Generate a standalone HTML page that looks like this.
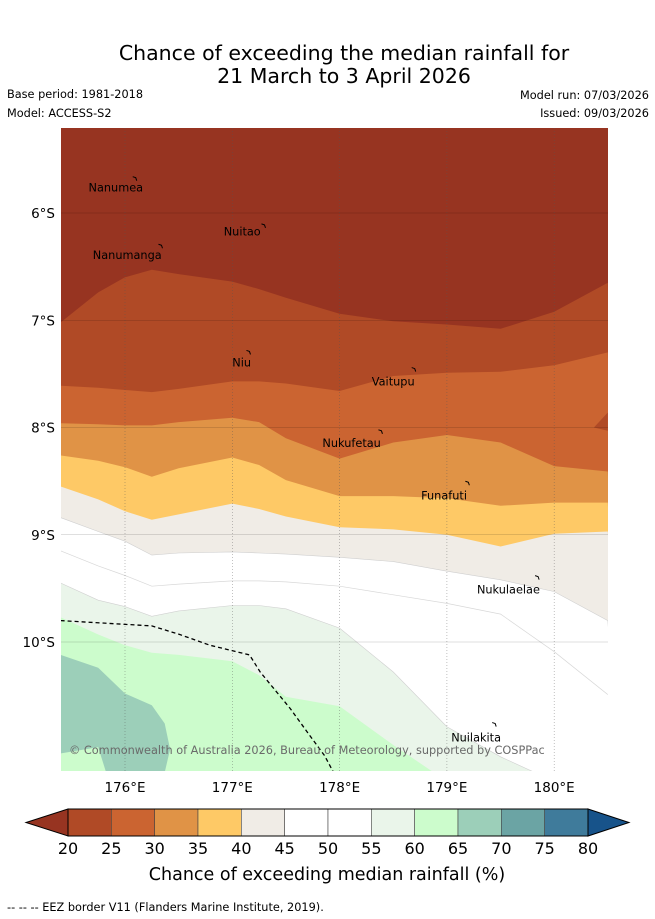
<!DOCTYPE html>
<html><head><meta charset="utf-8">
<style>
body{margin:0;background:#fff;width:655px;height:919px;overflow:hidden;font-family:"DejaVu Sans",sans-serif;}
svg{display:block}
</style></head>
<body>
<svg id="chart" width="655" height="919" viewBox="0 0 655 919" font-family="DejaVu Sans, sans-serif">
<text x="344" y="60" font-size="20.5" text-anchor="middle">Chance of exceeding the median rainfall for</text>
<text x="344" y="83" font-size="20.5" text-anchor="middle">21 March to 3 April 2026</text>
<text x="7" y="98" font-size="11.3">Base period: 1981-2018</text>
<text x="7" y="117" font-size="11.3">Model: ACCESS-S2</text>
<text x="649" y="99" font-size="11.3" text-anchor="end">Model run: 07/03/2026</text>
<text x="649" y="117" font-size="11.3" text-anchor="end">Issued: 09/03/2026</text>
<defs><clipPath id="clip"><rect x="61" y="128" width="547" height="643"/></clipPath></defs>
<g id="map" clip-path="url(#clip)"></g>
<g id="axes"></g>
<g id="cbar"></g>
<text x="327" y="880" font-size="17.5" text-anchor="middle">Chance of exceeding median rainfall (%)</text>
<text x="7" y="911" font-size="11.3">-- -- -- EEZ border V11 (Flanders Marine Institute, 2019).</text>
</svg>
<script>
const lons=[175.4,175.75,176,176.25,176.5,177,177.25,177.5,178,178.5,179,179.5,180,180.5];
const b20=[7.02,6.74,6.60,6.53,6.57,6.64,6.71,6.79,6.94,7.01,7.04,7.08,6.92,6.65];
const b25=[7.61,7.63,7.65,7.67,7.64,7.57,7.57,7.59,7.66,7.52,7.49,7.48,7.42,7.30];
const b30=[7.96,7.97,7.98,7.98,7.95,7.91,7.95,8.10,8.29,8.14,8.07,8.14,8.36,8.41];
const b35=[8.26,8.31,8.37,8.46,8.38,8.28,8.35,8.49,8.64,8.64,8.66,8.73,8.70,8.70];
const b40=[8.55,8.67,8.78,8.86,8.81,8.71,8.76,8.83,8.93,8.95,9.00,9.11,8.99,8.97];
const b45=[8.84,8.97,9.06,9.19,9.17,9.16,9.17,9.18,9.21,9.25,9.34,9.42,9.53,9.80];
const b50=[9.15,9.29,9.38,9.48,9.46,9.43,9.43,9.44,9.48,9.56,9.64,9.74,10.09,10.49];
const b55=[9.45,9.61,9.67,9.76,9.71,9.66,9.66,9.69,9.87,10.28,10.79,11.07,11.3,11.3];
const b60=[9.77,9.93,10.03,10.10,10.12,10.18,10.31,10.51,10.60,10.96,11.3,11.3,11.3,11.3];
const tealLon=[175.4,175.75,176,176.25,176.37,176.42,176.35,175.85,175.75,175.4];
const tealLat=[10.12,10.24,10.48,10.59,10.76,11.00,11.3,11.3,10.98,11.04];
const spotLon=[180.37,180.5,180.5];
const spotLat=[8.0,7.86,8.03];
const eezLon=[175.4,176.25,176.51,176.79,177.16,177.26,177.54,177.72,177.86,177.94];
const eezLat=[9.80,9.85,9.93,10.03,10.12,10.28,10.62,10.87,11.06,11.21];
const islandNames=["Nanumea","Nuitao","Nanumanga","Niu","Vaitupu","Nukufetau","Funafuti","Nukulaelae","Nuilakita"];
const islandLon=[176.1,177.3,176.34,177.16,178.7,178.39,179.2,179.85,179.45];
const islandLat=[5.68,6.12,6.31,7.30,7.46,8.04,8.52,9.40,10.77];
const labelLon=[175.66,176.92,175.7,177.0,178.3,177.84,178.76,179.28,179.04];
const labelLat=[5.80,6.21,6.43,7.43,7.61,8.18,8.67,9.55,10.93];
const xTicks=[176,177,178,179,180];
const yTicks=[6,7,8,9,10];
const cbLevels=[20,25,30,35,40,45,50,55,60,65,70,75,80];
const cbColors=["#b04a26","#cb6431","#e09346","#fec966","#f0ece6","#ffffff","#ffffff","#eaf5ea","#ccfccc","#9ccfb9","#6ba4a4","#3f7b9b"];

const NS="http://www.w3.org/2000/svg";
const X=l=>125+(l-176)*107.3;
const Y=l=>213+(l-6)*107.25;
function mk(tag,attrs,parent){const e=document.createElementNS(NS,tag);for(const k in attrs)e.setAttribute(k,attrs[k]);parent.appendChild(e);return e;}
const map=document.getElementById('map');
let bg=mk('rect',{x:61,y:128,width:547,height:643,fill:'#973421'},map);


const bands=[[b20,"#b04a26","band-20-25",0],[b25,"#cb6431","band-25-30",0],[b30,"#e09346","band-30-35",0],[b35,"#fec966","band-35-40",0],[b40,"#f0ece6","band-40-45",0],[b45,"#ffffff","band-45-50",1],[b55,"#eaf5ea","band-55-60",1],[b60,"#ccfccc","band-60-65",0]];
bands.forEach(([b,c,n,s])=>{
  let d='M'+lons.map((l,i)=>X(l).toFixed(1)+','+Y(b[i]).toFixed(1)).join('L')+'L620,790L50,790Z';
  const p=mk('path',{d:d,fill:c,stroke:s?'#d0d0d0':'none','stroke-width':0.6},map);
  
  
});
let sp=mk('path',{d:'M'+spotLon.map((l,i)=>X(l).toFixed(1)+','+Y(spotLat[i]).toFixed(1)).join('L')+'Z',fill:'#b04a26'},map);


let d50='M'+lons.map((l,i)=>X(l).toFixed(1)+','+Y(b50[i]).toFixed(1)).join('L');
let l50=mk('path',{d:d50,fill:'none',stroke:'#d8d8d8','stroke-width':0.7},map);


let tp=mk('path',{d:'M'+tealLon.map((l,i)=>X(l).toFixed(1)+','+Y(tealLat[i]).toFixed(1)).join('L')+'Z',fill:'#9ccfb9'},map);


xTicks.forEach(t=>{const g=mk('line',{x1:X(t),x2:X(t),y1:128,y2:771,stroke:'#555','stroke-width':0.6,'stroke-dasharray':'1,2','stroke-opacity':0.6},map);
  
  });
yTicks.forEach(t=>{const g=mk('line',{x1:61,x2:608,y1:Y(t),y2:Y(t),stroke:'#000','stroke-width':0.6,'stroke-opacity':0.25},map);
  
  });
let eez=mk('path',{d:'M'+eezLon.map((l,i)=>X(l).toFixed(1)+','+Y(eezLat[i]).toFixed(1)).join('L'),fill:'none',stroke:'#000','stroke-width':1.3,'stroke-dasharray':'4,3'},map);


islandNames.forEach((n,i)=>{
  const m=mk('path',{d:`M${X(islandLon[i])-3},${Y(islandLat[i])-2}l3,1l1,3`,fill:'none',stroke:'#000','stroke-width':1},map);
  
  
  const t=mk('text',{x:X(labelLon[i]),y:Y(labelLat[i]),'font-size':11.3},map);
  t.textContent=n;
  
  
});
let cp=mk('text',{x:69,y:754,'font-size':11.3,fill:'#6a6a6a'},map);
cp.textContent="© Commonwealth of Australia 2026, Bureau of Meteorology, supported by COSPPac";


const ax=document.getElementById('axes');
xTicks.forEach(t=>{const e=mk('text',{x:X(t),y:792,'font-size':13.5,'text-anchor':'middle'},ax);e.textContent=t+'°E';
  
  });
yTicks.forEach(t=>{const e=mk('text',{x:55,y:Y(t)+5,'font-size':13.5,'text-anchor':'end'},ax);e.textContent=t+'°S';
  
  });
const cb=document.getElementById('cbar');
const cx0=68,cw=520/12;
let lt=mk('path',{d:'M68,809L26,822.5L68,836Z',fill:'#973421',stroke:'#000','stroke-width':1},cb);


let rt=mk('path',{d:'M588,809L629,822.5L588,836Z',fill:'#17538a',stroke:'#000','stroke-width':1},cb);


cbColors.forEach((c,i)=>{const r=mk('rect',{x:cx0+i*cw,y:809,width:cw,height:27,fill:c,stroke:'#444','stroke-width':0.6},cb);
  
  });
mk('rect',{x:68,y:809,width:520,height:27,fill:'none',stroke:'#000','stroke-width':1},cb);
cbLevels.forEach((v,i)=>{const e=mk('text',{x:cx0+i*cw,y:854,'font-size':16,'text-anchor':'middle'},cb);e.textContent=v;
  
  });
</script>
</body></html>
